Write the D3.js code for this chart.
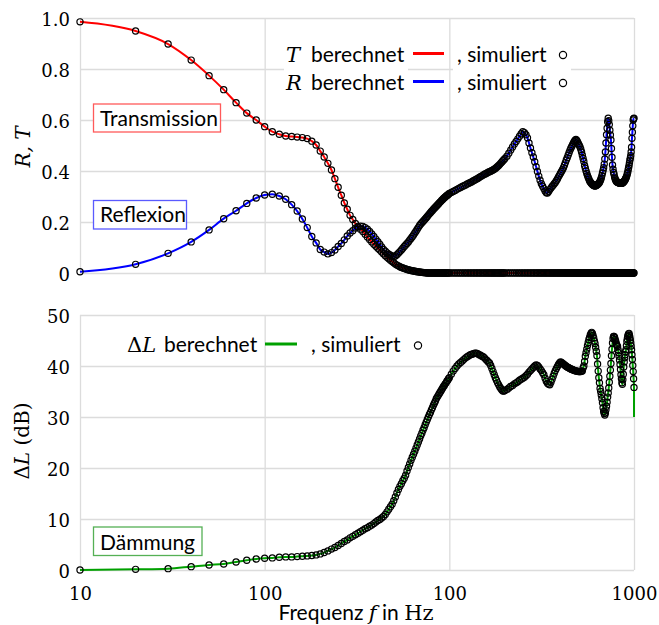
<!DOCTYPE html>
<html lang="de">

<head>
    <meta charset="utf-8">
    <title>Transmission, Reflexion, Dämmung</title>
    <script src="https://d3js.org/d3.v7.min.js"></script>
    <style>
        body { margin: 0; background: #fff; }
        svg { display: block; }
        .grid line { stroke: #dcdcdc; stroke-width: 1.3; }
        .grid .domain { display: none; }
        .grid text { font-family: "DejaVu Serif", serif; font-size: 18px; fill: #000; }
        .sans { font-family: Lato, "Open Sans", sans-serif; font-size: 21px; fill: #000; }
        .serif { font-family: "DejaVu Serif", serif; }
        .it { font-style: italic; }
    </style>
</head>

<body>
    <script>
        // frequencies (Hz) of the simulated points
        const freq = [
            10, 20, 30, 40, 50, 60, 70, 80, 90, 100,
            110, 120, 130, 140, 150, 160, 170, 180, 190, 200,
            210, 220, 230, 240, 250, 260, 270, 280, 290, 300,
            310, 320, 330, 340, 350, 360, 370, 380, 390, 400,
            410, 420, 430, 440, 450, 460, 470, 480, 490, 500,
            510, 520, 530, 540, 550, 560, 570, 580, 590, 600,
            610, 620, 630, 640, 650, 660, 670, 680, 690, 700,
            710, 720, 730, 740, 750, 760, 770, 780, 790, 800,
            810, 820, 830, 840, 850, 860, 870, 880, 890, 900,
            910, 920, 930, 940, 950, 960, 970, 980, 990, 1000,
            1025, 1050, 1075, 1100, 1125, 1150, 1175, 1200, 1225, 1250,
            1275, 1300, 1325, 1350, 1375, 1400, 1425, 1450, 1475, 1500,
            1525, 1550, 1575, 1600, 1625, 1650, 1675, 1700, 1725, 1750,
            1775, 1800, 1825, 1850, 1875, 1900, 1925, 1950, 1975, 2000,
            2050, 2100, 2150, 2200, 2250, 2300, 2350, 2400, 2450, 2500,
            2550, 2600, 2650, 2700, 2750, 2800, 2850, 2900, 2950, 3000,
            3050, 3100, 3150, 3200, 3250, 3300, 3350, 3400, 3450, 3500,
            3550, 3600, 3650, 3700, 3750, 3800, 3850, 3900, 3950, 4000,
            4050, 4100, 4150, 4200, 4250, 4300, 4350, 4400, 4450, 4500,
            4550, 4600, 4650, 4700, 4750, 4800, 4850, 4900, 4950, 5000,
            5050, 5100, 5150, 5200,
            5250, 5300, 5350, 5400, 5450, 5500, 5550, 5600, 5650, 5700,
            5750, 5800, 5850, 5900, 5950, 6000, 6050, 6100, 6150, 6200,
            6250, 6300, 6350, 6400, 6450, 6500, 6550, 6600, 6650, 6700,
            6750, 6800, 6850, 6900, 6950, 7000, 7050, 7100, 7150, 7200,
            7250, 7300, 7350, 7400, 7450, 7500, 7550, 7600, 7650, 7700,
            7750, 7800, 7850, 7900, 7950, 8000, 8050, 8100, 8150, 8200,
            8250, 8300, 8350, 8400, 8450, 8500, 8550, 8600, 8650, 8700,
            8750, 8800, 8850, 8900, 8950, 9000, 9050, 9100, 9150, 9200,
            9250, 9300, 9350, 9400, 9450, 9500, 9550, 9600, 9650, 9700,
            9750, 9800, 9850, 9900, 9950, 10000
        ]

        // transmission T
        const transT = [
            .985, .949, .898, .835, .774, .719, .668, .627, .600, .574,
            .554, .544, .537, .535, .533, .531, .527, .517, .502, .478,
            .455, .430, .404, .370, .336, .305, .275, .250, .226, .210,
            .194, .183, .172, .163, .152, .141, .131, .122, .113, .105,
            .097, .090, .082, .075, .068, .062, .056, .050, .045, .040,
            .035, .031, .028, .025, .022, .020, .018, .016, .014, .013,
            .011, .010, .009, .008, .007, .006, .005, .0045, .004, .003,
            .0025, .002, .0015, .001, .001, 0, 0, 0, 0, 0,
            0, 0, 0, 0, 0, 0, 0, 0, 0, 0,
            0, 0, 0, 0, 0, 0, 0, 0, 0, 0,
            0, 0, 0, 0, 0, 0, 0, 0, 0, 0,
            0, 0, 0, 0, 0, 0, 0, 0, 0, 0,
            0, 0, 0, 0, 0, 0, 0, 0, 0, 0,
            0, 0, 0, 0, 0, 0, 0, 0, 0, 0,
            0, 0, 0, 0, 0, 0, 0, 0, 0, 0,
            0, 0, 0, 0, 0, 0, 0, 0, 0, 0,
            0, 0, 0, 0, 0, 0, 0, 0, 0, 0,
            0, 0, 0, 0, 0, 0, 0, 0, 0, 0,
            0, 0, 0, 0, 0, 0, 0, 0, 0, 0,
            0, 0, 0, 0, 0, 0, 0, 0, 0, 0,
            0, 0, 0, 0,
            0, 0, 0, 0, 0, 0, 0, 0, 0, 0,
            0, 0, 0, 0, 0, 0, 0, 0, 0, 0,
            0, 0, 0, 0, 0, 0, 0, 0, 0, 0,
            0, 0, 0, 0, 0, 0, 0, 0, 0, 0,
            0, 0, 0, 0, 0, 0, 0, 0, 0, 0,
            0, 0, 0, 0, 0, 0, 0, 0, 0, 0,
            0, 0, 0, 0, 0, 0, 0, 0, 0, 0,
            0, 0, 0, 0, 0, 0, 0, 0, 0, 0,
            0, 0, 0, 0, 0, 0, 0, 0, 0, 0,
            0, 0, 0, 0, 0, 0
        ]

        // reflexion R
        const reflR = [
            .005, .034, .077, .122, .169, .213, .244, .273, .294, .306,
            .309, .302, .289, .268, .243, .212, .178, .143, .118, .092,
            .082, .075, .080, .090, .104, .116, .130, .145, .157, .166,
            .176, .180, .184, .183, .178, .172, .163, .153, .143, .133,
            .123, .113, .102, .092, .085, .079, .074, .070, .066, .064,
            .067, .072, .078, .084, .090, .097, .104, .110, .116, .122,
            .129, .135, .142, .149, .157, .164, .172, .179, .186, .192,
            .197, .202, .207, .212, .217, .222, .227, .232, .236, .241,
            .245, .250, .254, .258, .262, .266, .270, .274, .278, .281,
            .285, .288, .292, .295, .298, .301, .304, .306, .309, .312,
            .316, .320, .324, .328, .332, .335, .339, .342, .345, .349,
            .352, .355, .358, .362, .365, .368, .371, .375, .378, .381,
            .384, .387, .389, .392, .395, .397, .399, .402, .404, .407,
            .410, .414, .418, .422, .426, .431, .435, .440, .444, .449,
            .458, .470, .482, .494, .506, .516, .526, .536, .546, .554,
            .550, .542, .530, .510, .490, .472, .455, .436, .417, .398,
            .380, .364, .350, .340, .331, .322, .315, .314, .320, .327,
            .333, .339, .344, .350, .355, .362, .369, .377, .384, .391,
            .398, .405, .413, .423, .433, .443, .452, .462, .472, .481,
            .489, .496, .503, .510, .516, .521, .524, .520, .514, .507,
            .501, .494, .485, .475,
            .462, .449, .437, .422, .411, .400, .390, .382, .375, .368,
            .361, .357, .353, .350, .347, .345, .343, .342, .341, .342,
            .343, .345, .347, .349, .352, .355, .360, .366, .373, .382,
            .392, .402, .413, .427, .447, .475, .510, .542, .568, .593,
            .607, .597, .582, .560, .541, .522, .488, .454, .424, .407,
            .394, .386, .376, .370, .365, .361, .358, .357, .356, .355,
            .354, .353, .353, .352, .352, .352, .352, .352, .353, .354,
            .356, .358, .360, .363, .365, .370, .373, .377, .382, .389,
            .395, .405, .413, .422, .432, .442, .450, .460, .475, .493,
            .528, .552, .577, .600, .605, .607
        ]

        // Dämmung ΔL (dB)
        const dampL = [
            0, .13, .26, .66, .99, 1.18, 1.58, 1.9, 2.17, 2.3,
            2.37, 2.5, 2.57, 2.57, 2.63, 2.7, 2.76, 2.83, 2.96, 3.16,
            3.42, 3.75, 4.1, 4.4, 4.8, 5.2, 5.6, 5.9, 6.3, 6.6,
            6.9, 7.2, 7.5, 7.8, 8.1, 8.3, 8.6, 8.8, 9.1, 9.4,
            9.7, 9.9, 10.2, 10.5, 10.9, 11.4, 11.9, 12.4, 12.9, 13.6,
            14.3, 15.1, 15.8, 16.4, 16.9, 17.5, 18.0, 18.6, 19.4, 20.1,
            20.8, 21.5, 22.1, 22.7, 23.3, 23.9, 24.5, 25.1, 25.7, 26.3,
            26.8, 27.4, 27.9, 28.5, 29.0, 29.5, 30.0, 30.5, 30.9, 31.4,
            31.8, 32.3, 32.7, 33.1, 33.6, 33.9, 34.2, 34.5, 34.8, 35.1,
            35.4, 35.7, 36.0, 36.2, 36.5, 36.7, 37.0, 37.2, 37.5, 37.7,
            38.4, 39.0, 39.5, 40.0, 40.4, 40.7, 41.0, 41.3, 41.6, 41.8,
            42.0, 42.2, 42.3, 42.4, 42.5, 42.5, 42.4, 42.2, 42.1, 41.9,
            41.8, 41.6, 41.3, 41.1, 40.8, 40.6, 40.1, 39.5, 38.9, 38.3,
            37.7, 37.2, 36.7, 36.3, 35.9, 35.6, 35.3, 35.1, 35.1, 35.2,
            35.4, 35.7, 36.0, 36.2, 36.5, 36.7, 36.9, 37.2, 37.4, 37.6,
            37.8, 38.1, 38.4, 38.8, 39.1, 39.4, 39.7, 40.0, 40.2, 40.1,
            39.8, 39.4, 39.1, 38.7, 38.3, 37.6, 37.0, 36.6, 36.4, 36.3,
            36.8, 37.4, 38.0, 38.6, 39.1, 39.5, 39.9, 40.3, 40.6, 40.8,
            40.7, 40.5, 40.4, 40.2, 40.1, 39.9, 39.8, 39.7, 39.6, 39.5,
            39.4, 39.3, 39.3, 39.2, 39.1, 39.1, 39.0, 39.0, 39.0, 38.9,
            38.9, 38.9, 38.9, 39.0,
            39.0, 39.6, 40.0, 40.9, 41.9, 42.6, 43.3, 44.0, 44.6, 45.2,
            45.6, 46.1, 46.4, 46.6, 46.4, 46.0, 45.5, 44.9, 44.4, 43.7,
            42.9, 42.0, 40.4, 39.0, 37.7, 36.7, 35.6, 35.0, 34.3, 33.6,
            32.8, 31.8, 31.1, 30.7, 30.4, 30.8, 31.4, 32.1, 32.9, 33.9,
            34.7, 35.7, 36.8, 38.0, 39.2, 40.5, 42.0, 43.3, 44.5, 45.4,
            45.8, 45.8, 45.6, 45.2, 44.9, 44.5, 44.2, 44.0, 43.8, 43.2,
            42.6, 41.9, 41.2, 40.3, 39.3, 38.3, 37.5, 36.7, 36.4, 37.3,
            38.4, 39.8, 40.8, 41.6, 42.2, 42.8, 43.2, 44.0, 44.8, 45.3,
            45.8, 46.1, 46.3, 46.4, 46.0, 45.6, 45.1, 44.5, 43.9, 43.2,
            42.2, 41.3, 40.1, 38.9, 37.5, 35.8
        ]
        // calculated curve ends a bit lower than the last simulated point
        const dampCalcEnd = [10000, 30]

        const xTicks = [10, 100, 1000, 10000]
        const xTickLabels = ['10', '100', '100', '1000']
        const rtTicks = [0, 0.2, 0.4, 0.6, 0.8, 1]
        const rtTickLabels = ['0', '0.2', '0.4', '0.6', '0.8', '1.0']
        const dlTicks = [0, 10, 20, 30, 40, 50]
        const dlTickLabels = ['0', '10', '20', '30', '40', '50']

        const m = { width: 659, height: 625, left: 80, right: 634 }

        const svg = d3.select('body').append('svg')
            .attr('width', m.width)
            .attr('height', m.height)

        const x = d3.scaleLog().domain([10, 10000]).range([m.left, m.right])
        const yTop = d3.scaleLinear().domain([0, 1]).range([273, 18])
        const yBot = d3.scaleLinear().domain([0, 50]).range([570, 315])

        // gridlines + tick labels of one panel
        function drawGrid(y, ticks, labels, showX) {
            const [y0, y1] = y.range()
            svg.append('g').attr('class', 'grid')
                .attr('transform', `translate(${m.left},0)`)
                .call(d3.axisLeft(y).tickValues(ticks).tickSize(-(m.right - m.left))
                    .tickPadding(10).tickFormat((d, i) => labels[i]))
                .selectAll('text').attr('dy', '0.42em')
            svg.append('g').attr('class', 'grid')
                .attr('transform', `translate(0,${y0})`)
                .call(d3.axisBottom(x).tickValues(xTicks).tickSize(-(y0 - y1))
                    .tickPadding(17).tickFormat((d, i) => showX ? xTickLabels[i] : ''))
        }

        drawGrid(yTop, rtTicks, rtTickLabels, false)
        drawGrid(yBot, dlTicks, dlTickLabels, true)

        function drawSeries(vals, y, color, extra) {
            const pts = freq.map((f, i) => [f, vals[i]])
            const linePts = extra ? pts.concat([extra]) : pts
            const line = d3.line()
                .x(d => x(d[0]))
                .y(d => y(d[1]))
                .curve(d3.curveMonotoneX)
            svg.append('path')
                .datum(linePts)
                .attr('d', line)
                .attr('fill', 'none')
                .attr('stroke', color)
                .attr('stroke-width', 2)
            return pts
        }

        function drawMarkers(pts, y) {
            svg.append('g').selectAll('circle')
                .data(pts)
                .enter()
                .append('circle')
                .attr('cx', d => x(d[0]))
                .attr('cy', d => y(d[1]))
                .attr('r', 3.1)
                .attr('fill', 'none')
                .attr('stroke', '#000')
                .attr('stroke-width', 1.2)
        }

        // top panel: T and R
        const tPts = drawSeries(transT, yTop, '#ff0000')
        const rPts = drawSeries(reflR, yTop, '#0000ff')
        drawMarkers(tPts, yTop)
        drawMarkers(rPts, yTop)

        // bottom panel: ΔL
        const lPts = drawSeries(dampL, yBot, '#00a000', dampCalcEnd)
        drawMarkers(lPts, yBot)

        // boxed labels
        function labelBox(txt, x0, y0, w, h, color, base) {
            svg.append('rect')
                .attr('x', x0).attr('y', y0).attr('width', w).attr('height', h)
                .attr('fill', '#fff').attr('stroke', color).attr('stroke-width', 1.3)
            svg.append('text').attr('class', 'sans')
                .attr('x', x0 + 6.5).attr('y', base).text(txt)
        }
        labelBox('Transmission', 93.5, 104, 127, 28, '#ff5a5a', 126)
        labelBox('Reflexion', 93.5, 200.5, 93, 28.5, '#5a5aff', 222)
        labelBox('Dämmung', 93.5, 527, 108.5, 28.5, '#55b055', 550)

        // legends
        function legendRow(sym, symX, textX, base, lineX, color, simX, circX) {
            const t = svg.append('text').attr('class', 'sans').attr('y', base)
            sym(t.append('tspan').attr('x', symX))
            t.append('tspan').attr('x', textX).text('berechnet')
            svg.append('line')
                .attr('x1', lineX[0]).attr('x2', lineX[1])
                .attr('y1', base - 8).attr('y2', base - 8)
                .attr('stroke', color).attr('stroke-width', 3)
            svg.append('text').attr('class', 'sans')
                .attr('x', simX).attr('y', base).text(', simuliert')
            svg.append('circle')
                .attr('cx', circX).attr('cy', base - 6.5).attr('r', 3.6)
                .attr('fill', 'none').attr('stroke', '#000').attr('stroke-width', 1.2)
        }

        svg.append('rect').attr('x', 284).attr('y', 40).attr('width', 124).attr('height', 56).attr('fill', '#fff')
        svg.append('rect').attr('x', 453).attr('y', 40).attr('width', 118).attr('height', 56).attr('fill', '#fff')

        legendRow(s => s.attr('class', 'serif it').text('T'), 286, 311, 61.5, [413, 444], '#ff0000', 457, 563)
        legendRow(s => s.attr('class', 'serif it').text('R'), 286, 311, 89.5, [413, 444], '#0000ff', 457, 563)
        legendRow(s => {
            s.attr('class', 'serif').text('Δ')
            s.append('tspan').attr('class', 'serif it').text('L')
        }, 127, 164, 352, [265, 297], '#00a000', 311, 418)

        // axis titles
        svg.append('text')
            .attr('class', 'serif it')
            .attr('font-size', 20)
            .attr('text-anchor', 'middle')
            .attr('transform', 'translate(30,147) rotate(-90)')
            .text('R, T')

        const dl = svg.append('text')
            .attr('class', 'serif')
            .attr('font-size', 20)
            .attr('text-anchor', 'middle')
            .attr('transform', 'translate(29,441) rotate(-90)')
        dl.append('tspan').text('Δ')
        dl.append('tspan').attr('class', 'it').text('L')
        dl.append('tspan').text(' (dB)')

        const xt = svg.append('text')
            .attr('class', 'sans')
            .attr('text-anchor', 'middle')
            .attr('x', 356)
            .attr('y', 620)
        xt.append('tspan').text('Frequenz ')
        xt.append('tspan').attr('class', 'serif it').text('f')
        xt.append('tspan').text(' in ')
        xt.append('tspan').attr('class', 'serif').text('Hz')
    </script>
</body>

</html>
